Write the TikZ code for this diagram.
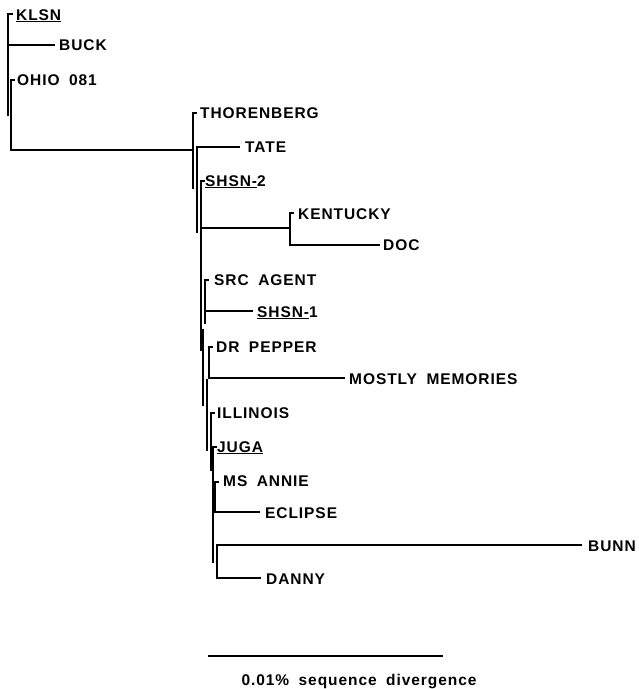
\documentclass[tikz,border=0pt]{standalone}
\usepackage{fontspec}
\setmainfont[LetterSpace=6]{Liberation Sans}
\newcommand{\wsp}{\hspace{9.5pt}}
\begin{document}
\begin{tikzpicture}[x=1pt,y=-1pt,
  br/.style={line width=1.4pt,line cap=rect},
  tip/.style={anchor=base west,inner sep=0pt,font=\fontsize{15.5}{17}\selectfont\bfseries}]
\useasboundingbox (0,0) rectangle (639,689);
% labels (x, baseline)
\node[tip] (klsn) at (16,20) {\underline{KLSN}};
\node[tip] (buck) at (59,50) {BUCK};
\node[tip] (ohio) at (17,85) {OHIO\wsp 081};
\node[tip] (thor) at (200,118) {THORENBERG};
\node[tip] (tate) at (245,152) {TATE};
\node[tip] (shsn2) at (205,186) {\underline{SHSN-}2};
\node[tip] (kent) at (298,219) {KENTUCKY};
\node[tip] (doc) at (383,250) {DOC};
\node[tip] (src) at (214,285) {SRC\wsp AGENT};
\node[tip] (shsn1) at (257,317) {\underline{SHSN-}1};
\node[tip] (drp) at (216,352) {DR\wsp PEPPER};
\node[tip] (most) at (349,384) {MOSTLY\wsp MEMORIES};
\node[tip] (ill) at (217,418) {ILLINOIS};
\node[tip] (juga) at (217,452) {\underline{JUGA}};
\node[tip] (msa) at (223,486) {MS\wsp ANNIE};
\node[tip] (ecl) at (265,518) {ECLIPSE};
\node[tip] (bunn) at (588,551) {BUNN};
\node[tip] (danny) at (266,584) {DANNY};
% internal points
\coordinate (l1t) at (8,14);
\coordinate (l1b) at (8,115);
\coordinate (l2t) at (11,80);
\coordinate (root) at (11,150);
\coordinate (r1t) at (193,113);
\coordinate (r1b) at (193,188);
\coordinate (r2t) at (197,147);
\coordinate (r2b) at (197,232);
\coordinate (r3t) at (201,181);
\coordinate (r3b) at (201,350);
\coordinate (k) at (290,228);
\coordinate (kt) at (290,213);
\coordinate (kb) at (290,245);
\coordinate (s1t) at (205,280);
\coordinate (s1b) at (205,323);
\coordinate (r4t) at (203,330);
\coordinate (r4b) at (203,405);
\coordinate (dpt) at (209,347);
\coordinate (dpb) at (209,378);
\coordinate (r5t) at (207,380);
\coordinate (r5b) at (207,450);
\coordinate (r6t) at (211,413);
\coordinate (r6b) at (211,470);
\coordinate (r7t) at (213,447);
\coordinate (r7b) at (213,562);
\coordinate (mat) at (215,482);
\coordinate (mab) at (215,512);
\coordinate (bdt) at (217,545);
\coordinate (bdb) at (217,578);
% left clade
\draw[br] (l1t) -- (l1b);
\draw[br] (l1t) -- ++(4,0);
\draw[br] (8,45) -- ([xshift=-5pt]buck.west |- 8,45);
\draw[br] (l2t) -- (root);
\draw[br] (l2t) -- ++(3,0);
\draw[br] (root) -- (r1t |- root);
% right clade
\draw[br] (r1t) -- (r1b);
\draw[br] (r1t) -- ++(3,0);
\draw[br] (r2t) -- (r2b);
\draw[br] (r2t) -- ([xshift=-6pt]tate.west |- r2t);
\draw[br] (r3t) -- (r3b);
\draw[br] (r3t) -- ++(3,0);
\draw[br] (r3t |- k) -- (k);
\draw[br] (kt) -- (kb);
\draw[br] (kt) -- ++(3,0);
\draw[br] (kb) -- ([xshift=-4pt]doc.west |- kb);
\draw[br] (s1t) -- (s1b);
\draw[br] (s1t) -- ++(3,0);
\draw[br] (205,311) -- ([xshift=-5pt]shsn1.west |- 205,311);
\draw[br] (r4t) -- (r4b);
\draw[br] (dpt) -- (dpb);
\draw[br] (dpt) -- ++(3,0);
\draw[br] (dpb) -- ([xshift=-5pt]most.west |- dpb);
\draw[br] (r5t) -- (r5b);
\draw[br] (r6t) -- (r6b);
\draw[br] (r6t) -- ++(3,0);
\draw[br] (r7t) -- (r7b);
\draw[br] (r7t) -- ++(3,0);
\draw[br] (mat) -- (mab);
\draw[br] (mat) -- ++(3,0);
\draw[br] (mab) -- ([xshift=-6pt]ecl.west |- mab);
\draw[br] (bdt) -- (bdb);
\draw[br] (bdt) -- ([xshift=-7pt]bunn.west |- bdt);
\draw[br] (bdb) -- ([xshift=-6pt]danny.west |- bdb);
% scale bar
\coordinate (sbl) at (208,656);
\coordinate (sbr) at (443,656);
\draw[line width=1.3pt] (sbl) -- (sbr);
\node[tip,anchor=base] (scale) at (359,685) {0.01\%\wsp sequence\wsp divergence};
\end{tikzpicture}
\end{document}
